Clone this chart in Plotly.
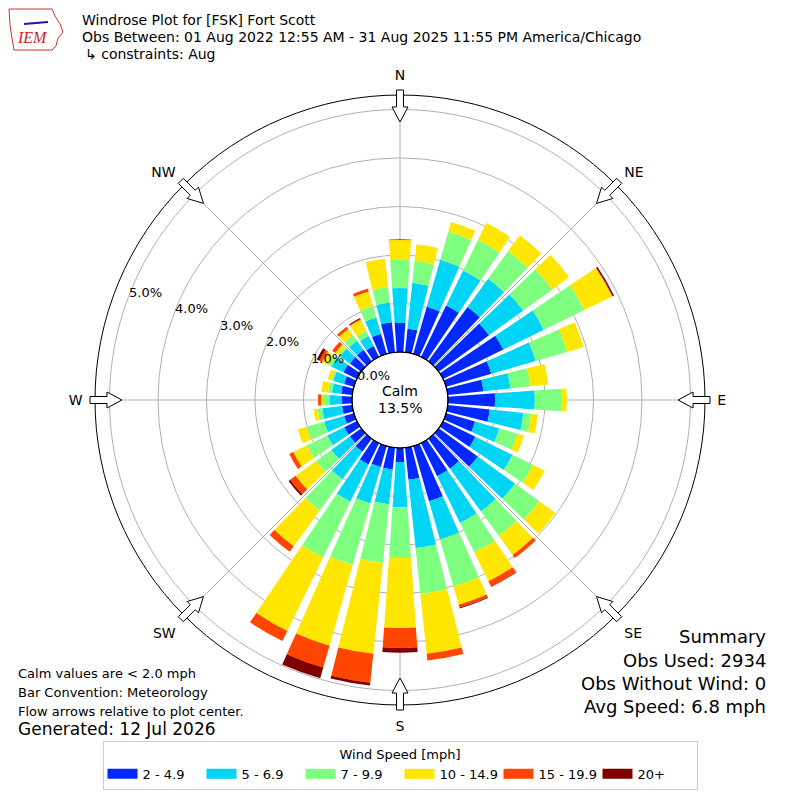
import math
import plotly.graph_objects as go

# wind direction (deg, meteorological) and frequency (%) per speed bin
directions = list(range(0, 360, 10))
speed_bins = ["2 - 4.9", "5 - 6.9", "7 - 9.9", "10 - 14.9", "15 - 19.9", "20+"]
bin_colors = ["#0028ff", "#00d5f5", "#7fff7f", "#ffe600", "#ff4500", "#800000"]

s2_5 = [0.60, 0.49, 1.01, 1.18, 1.38, 1.28, 1.38, 0.97, 0.74, 0.97,
        0.87, 0.62, 0.74, 0.99, 0.76, 0.76, 1.18, 0.66, 0.29, 0.45,
        0.45, 0.49, 0.33, 0.29, 0.29, 0.21, 0.21, 0.21, 0.23, 0.21,
        0.31, 0.29, 0.29, 0.25, 0.43, 0.62]
s5_7 = [0.72, 0.95, 1.01, 0.80, 0.72, 0.87, 0.93, 0.95, 0.56, 0.82,
        0.70, 0.52, 0.85, 0.95, 1.09, 1.07, 0.82, 1.42, 0.93, 0.72,
        0.78, 0.85, 0.70, 0.47, 0.39, 0.43, 0.41, 0.25, 0.19, 0.23,
        0.27, 0.25, 0.23, 0.23, 0.35, 0.41]
s7_10 = [0.58, 0.45, 0.60, 0.70, 0.70, 0.74, 0.93, 0.68, 0.41, 0.56,
         0.16, 0.39, 0.47, 0.62, 0.62, 0.68, 1.01, 0.95, 1.05, 1.22,
         1.32, 1.28, 0.80, 0.39, 0.47, 0.37, 0.10, 0.14, 0.08, 0.04,
         0.08, 0.04, 0.14, 0.12, 0.25, 0.32]
s10_15 = [0.41, 0.35, 0.21, 0.39, 0.41, 0.43, 0.64, 0.35, 0.37, 0.10,
          0.14, 0.14, 0.27, 0.41, 0.49, 0.66, 0.39, 1.24, 1.44, 1.88,
          1.73, 1.69, 0.91, 0.52, 0.31, 0.19, 0.08, 0.04, 0.14, 0.08,
          0.14, 0.08, 0.16, 0.25, 0.31, 0.59]
s15_20 = [0.02, 0, 0, 0, 0, 0, 0.01, 0, 0, 0,
          0, 0, 0, 0, 0.08, 0.12, 0.06, 0.14, 0.41, 0.60,
          0.47, 0.23, 0.14, 0.14, 0.09, 0, 0, 0.06, 0, 0,
          0.06, 0.08, 0.06, 0.02, 0.06, 0]
s20 = [0, 0, 0, 0, 0, 0, 0.03, 0, 0, 0,
       0, 0, 0, 0, 0, 0.01, 0.02, 0, 0.10, 0.06,
       0.23, 0, 0, 0.04, 0, 0, 0, 0, 0, 0,
       0.06, 0, 0, 0.02, 0, 0]

calm_pct = 13.5
compass_vals = [0, 45, 90, 135, 180, 225, 270, 315]
compass_text = ["N", "NE", "E", "SE", "S", "SW", "W", "NW"]
radial_ticks = [0, 1, 2, 3, 4, 5]

FONT = "DejaVu Sans"
W = H = 800
CX, CY, R_OUT, R_IN = 400, 400, 305, 48
PX_PER_PCT = 48.5
LABEL_ANGLE = 290

fig = go.Figure()
for name, vals, col in zip(speed_bins, [s2_5, s5_7, s7_10, s10_15, s15_20, s20], bin_colors):
    fig.add_trace(go.Barpolar(r=vals, theta=directions, name=name, width=8, legendgroup=name,
                              showlegend=False, marker=dict(color=col, line=dict(width=0))))
# legend swatches (wide rectangles)
for name, col in zip(speed_bins, bin_colors):
    fig.add_trace(go.Scatterpolar(r=[None], theta=[None], mode="lines", name=name, legendgroup=name,
                                  line=dict(color=col, width=11)))


def px(x, y):
    return x / W, 1 - y / H


def polar_px(rr, a, t=0.0):
    s, c = math.sin(math.radians(a)), math.cos(math.radians(a))
    return CX + rr * s + t * c, CY - rr * c + t * s


# hollow flow arrows at the compass points
shapes = []
arrow = [(310, -3.5), (293, -3.5), (293, -8), (278, 0), (293, 8), (293, 3.5), (310, 3.5)]
for a in compass_vals:
    pts = [px(*polar_px(rr, a, t)) for rr, t in arrow]
    path = "M " + " L ".join(f"{p[0]:.5f},{p[1]:.5f}" for p in pts) + " Z"
    shapes.append(dict(type="path", path=path, xref="paper", yref="paper",
                       fillcolor="white", line=dict(color="black", width=1)))

x0, y0 = px(CX - R_IN, CY + R_IN)
x1, y1 = px(CX + R_IN, CY - R_IN)
shapes.append(dict(type="circle", xref="paper", yref="paper", x0=x0, y0=y0, x1=x1, y1=y1,
                   line=dict(color="black", width=1.2), fillcolor="rgba(0,0,0,0)"))

# rough IEM logo: state outline and a wind barb
logo = [(9, 9), (52, 9), (55, 16), (60, 24), (63, 32), (58, 38), (56, 46), (52, 50), (14, 50), (12, 38), (10, 25)]
path = "M " + " L ".join("{:.5f},{:.5f}".format(*px(x, y)) for x, y in logo) + " Z"
shapes.append(dict(type="path", path=path, xref="paper", yref="paper",
                   line=dict(color="#cc3333", width=1), fillcolor="rgba(0,0,0,0)"))
bx0, by0 = px(24, 24)
bx1, by1 = px(48, 22)
shapes.append(dict(type="line", xref="paper", yref="paper", x0=bx0, y0=by0, x1=bx1, y1=by1,
                   line=dict(color="#1a1aa0", width=2)))

ann = []


def text(x, y, s, size=14, anchor="left", color="black", family=FONT, vanchor="middle"):
    xp, yp = px(x, y)
    ann.append(dict(x=xp, y=yp, xref="paper", yref="paper", text=s, showarrow=False,
                    xanchor=anchor, yanchor=vanchor, font=dict(family=family, size=size, color=color)))


text(80, 20, "Windrose Plot for [FSK] Fort Scott")
text(80, 37, "Obs Between: 01 Aug 2022 12:55 AM - 31 Aug 2025 11:55 PM America/Chicago")
text(83, 54, "↳ constraints: Aug")
text(32, 38, "<i>IEM</i>", 16, "center", "#cc2222", "Liberation Serif")
text(400, 391, "Calm", anchor="center")
text(400, 408, f"{calm_pct}%", anchor="center")
text(16, 673, "Calm values are < 2.0 mph", 13)
text(16, 692, "Bar Convention: Meteorology", 13)
text(16, 711, "Flow arrows relative to plot center.", 13)
text(16, 729, "Generated: 12 Jul 2026", 17)
text(768, 636, "Summary", 18, "right")
text(768, 660, "Obs Used: 2934", 18, "right")
text(768, 683, "Obs Without Wind: 0", 18, "right")
text(768, 706, "Avg Speed: 6.8 mph", 18, "right")

# radial tick labels, horizontal, anchored bottom-left on the ray
for v in radial_ticks:
    lx, ly = polar_px(R_IN + v * PX_PER_PCT, LABEL_ANGLE)
    text(lx, ly + 1, f"{v:.1f}%", 13, "left", vanchor="bottom")

d0, d1 = (CX - R_OUT) / W, (CX + R_OUT) / W
fig.update_layout(
    width=W, height=H,
    margin=dict(l=0, r=0, t=0, b=0),
    paper_bgcolor="white",
    font=dict(family=FONT, size=13, color="black"),
    polar=dict(
        domain=dict(x=[d0, d1], y=[d0, d1]),
        hole=R_IN / R_OUT,
        bgcolor="white",
        barmode="stack",
        angularaxis=dict(rotation=90, direction="clockwise", tickmode="array",
                         tickvals=compass_vals, ticktext=compass_text,
                         showline=True, linecolor="black", linewidth=1,
                         gridcolor="#b0b0b0", ticks="outside", ticklen=9,
                         tickcolor="rgba(0,0,0,0)", tickfont=dict(size=14)),
        radialaxis=dict(range=[0, (R_OUT - R_IN) / PX_PER_PCT], tickmode="array",
                        tickvals=radial_ticks, showticklabels=False,
                        angle=157.5, showline=False, gridcolor="#b0b0b0", ticks=""),
    ),
    legend=dict(orientation="h", x=0.5, xanchor="center", y=1 - 741 / H, yanchor="top",
                title=dict(text="Wind Speed [mph]", side="top center", font=dict(size=13)),
                bordercolor="#cccccc", borderwidth=1, font=dict(size=13),
                itemwidth=30, entrywidth=54),
    shapes=shapes,
    annotations=ann,
)

fig.write_html("out.html", config={"displayModeBar": False},
               post_script="document.body.style.margin='0';")
